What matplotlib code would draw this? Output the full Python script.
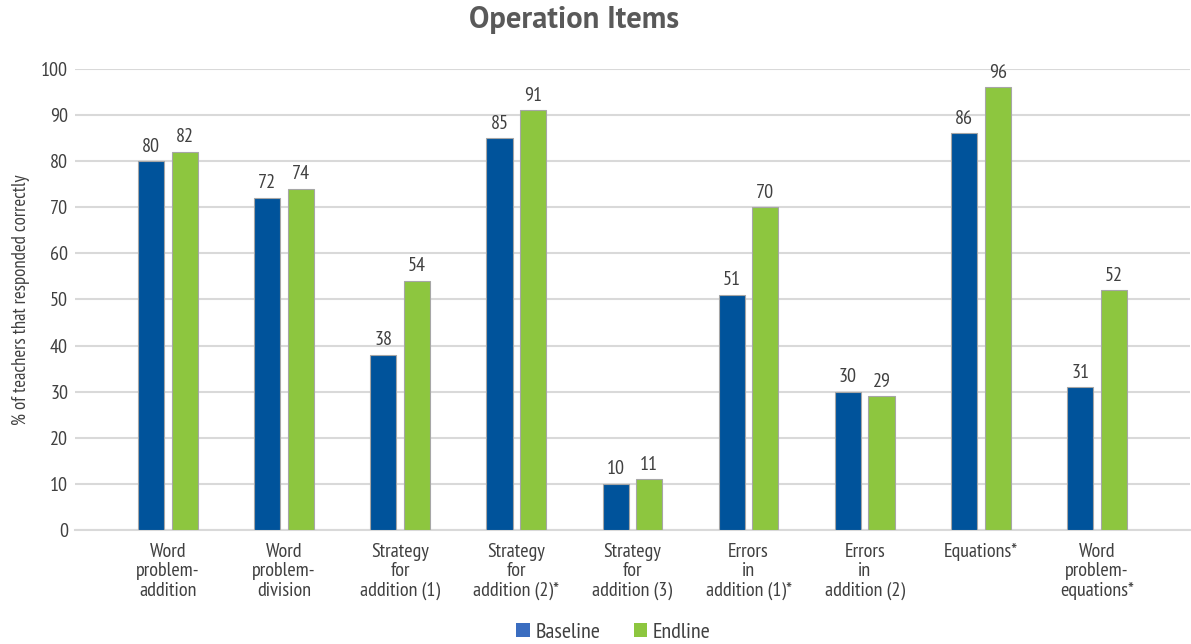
import matplotlib
matplotlib.use("Agg")
import matplotlib.pyplot as plt
import numpy as np
from matplotlib.patches import Patch

plt.rcParams['font.family'] = ['PT Sans Narrow', 'DejaVu Sans']

categories = [
    "Word\nproblem-\naddition",
    "Word\nproblem-\ndivision",
    "Strategy\nfor\naddition (1)",
    "Strategy\nfor\naddition (2)*",
    "Strategy\nfor\naddition (3)",
    "Errors\nin\naddition (1)*",
    "Errors\nin\naddition (2)",
    "Equations*",
    "Word\nproblem-\nequations*",
]
baseline = [80, 72, 38, 85, 10, 51, 30, 86, 31]
endline = [82, 74, 54, 91, 11, 70, 29, 96, 52]
yticks = [0, 10, 20, 30, 40, 50, 60, 70, 80, 90, 100]

blue = "#00539B"
green = "#8DC63F"
text_col = "#404040"

fig = plt.figure(figsize=(11.91, 6.44), dpi=100)
ax = fig.add_axes([0.063, 0.177, 0.936, 0.716])

x = np.arange(len(categories))
w = 0.225
off = 0.145
b1 = ax.bar(x - off, baseline, w, color=blue, edgecolor="#A6A6A6", linewidth=0.8, zorder=3)
b2 = ax.bar(x + off, endline, w, color=green, edgecolor="#A6A6A6", linewidth=0.8, zorder=3)

for bars, vals in ((b1, baseline), (b2, endline)):
    for r, v in zip(bars, vals):
        ax.text(r.get_x() + r.get_width() / 2, v + 1.2, str(v), ha="center", va="bottom",
                fontsize=14.5, color=text_col)

ax.set_xlim(-0.8, 8.8)
ax.set_ylim(0, 100)
ax.set_yticks(yticks)
ax.yaxis.grid(True, color="#D9D9D9", linewidth=1.5, zorder=0)
ax.set_axisbelow(True)
for s in ("top", "right", "left"):
    ax.spines[s].set_visible(False)
ax.spines["bottom"].set_color("#D9D9D9")
ax.spines["bottom"].set_linewidth(1.5)
ax.tick_params(axis="both", length=0, labelsize=14.5, colors=text_col)
ax.tick_params(axis="y", pad=5)
ax.tick_params(axis="x", pad=9)
ax.set_xticks(x)
ax.set_xticklabels(categories, linespacing=1.12)
ax.set_ylabel("% of teachers that responded correctly", fontsize=13.5, color=text_col, labelpad=8)

fig.suptitle("Operation Items", x=0.482, y=0.99, fontsize=22, fontweight="bold", color="#595959",
             family=["PT Sans", "DejaVu Sans"])

handles = [Patch(facecolor="#3A6DC0", label="Baseline"), Patch(facecolor=green, label="Endline")]
fig.legend(handles=handles, loc="center", bbox_to_anchor=(0.515, 0.018), ncol=2, frameon=False,
           fontsize=16, handlelength=0.6, handleheight=0.6, handletextpad=0.25, columnspacing=1.5,
           labelcolor=text_col)

fig.savefig("out.png", dpi=100)
